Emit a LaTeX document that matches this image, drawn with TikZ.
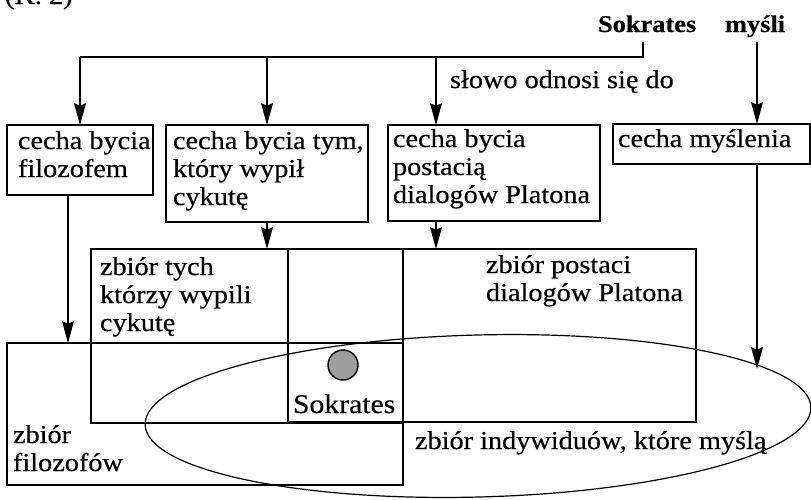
\documentclass[tikz,border=0pt]{standalone}
\usepackage{fontspec}
\setmainfont{Liberation Serif}[FakeStretch=1.1, FakeBold=0.4]
\usetikzlibrary{arrows.meta}
\newcommand\bodyfont{\fontsize{25.7}{28}\selectfont}
\newcommand\headfont{\fontsize{24}{27}\selectfont\bfseries}
\begin{document}
\begin{tikzpicture}[x=1pt,y=-1pt,
  every node/.style={inner sep=0pt, outer sep=0pt},
  wire/.style={line width=1.2pt},
  arr/.style={wire, -{Stealth[length=22pt,width=12pt,inset=3pt]}},
  frame/.style={draw, line width=1.2pt, anchor=north west},
  core/.style={draw, line width=2.2pt, anchor=north west},
  txt/.style={font=\bodyfont, anchor=north west, align=left},
  line/.style={font=\bodyfont, anchor=base west},
  head/.style={font=\headfont, anchor=base west}]
\useasboundingbox (0,0) rectangle (811,499);

% words of the sentence and the reference label
\node[line] (lbl) at (5,4) {(K. 2)};
\node[head] (sok) at (598,32) {Sokrates};
\node[head] (mys) at (725,32) {myśli};
\node[line] (ref) at (450,88) {słowo odnosi się do};

% boxes of the properties
\node[frame, minimum width=146pt, minimum height=70pt] (b1) at (7,125) {};
\node[frame, minimum width=202pt, minimum height=97pt] (b2) at (166,125) {};
\node[frame, minimum width=212pt, minimum height=96pt] (b3) at (388,125) {};
\node[frame, minimum width=197pt, minimum height=40pt] (b4) at (613,124) {};
\node[txt] (t1) at (18,130) {\rule{0pt}{19pt}cecha bycia\\filozofem};
\node[txt] (t2) at (173,130) {\rule{0pt}{19pt}cecha bycia tym,\\który wypił\\cykutę};
\node[txt] (t3) at (393,128) {\rule{0pt}{19pt}cecha bycia\\postacią\\dialogów Platona};
\node[line] (t4) at (618,147) {cecha myślenia};

% the sets
\node[frame, minimum width=312pt, minimum height=174pt] (cyk) at (91,249) {};
\node[frame, minimum width=408pt, minimum height=173pt] (pla) at (288,249) {};
\node[frame, minimum width=396pt, minimum height=142pt] (fil) at (7,343) {};
\draw[wire, rotate around={1.5:(478,416)}] (478,416) ellipse [x radius=333, y radius=81];
\node[core, minimum width=115pt, minimum height=80pt] (sbox) at (288,343) {};
\node[circle, draw, line width=1.4pt, fill=black!38, minimum size=30pt] (dot) at (343,365) {};

\node[txt] (t5) at (100,256) {\rule{0pt}{19pt}zbiór tych\\którzy wypili\\cykutę};
\node[txt] (t6) at (486,254) {\rule{0pt}{19pt}zbiór postaci\\dialogów Platona};
\node[txt] (t7) at (13,424) {\rule{0pt}{19pt}zbiór\\filozofów};
\node[line] (t8) at (415,449) {zbiór indywiduów, które myślą};
\node[line, font=\fontsize{27}{28}\selectfont] (t9) at (293,413) {Sokrates};

% "Sokrates" refers to three properties
\coordinate (s0) at (643,42);
\coordinate (bus) at (643,57);
\coordinate (a3) at (436,57);
\draw[wire] (s0) -- (bus) -- (b1.north |- bus);
\draw[arr] (b1.north |- bus) -- (b1.north);
\draw[arr] (b2.north |- bus) -- (b2.north);
\draw[arr] (a3) -- (a3 |- b3.north);

% "myśli" refers to thinking
\coordinate (m0) at (757,42);
\coordinate (mt) at (757,369);
\draw[arr] (m0) -- (m0 |- b4.north);

% from the properties to their sets
\coordinate (d1) at (68,200);
\draw[arr] (d1 |- b1.south) -- (d1 |- fil.north);
\draw[arr] (b2.south) -- (b2.south |- cyk.north);
\draw[arr] (a3 |- b3.south) -- (a3 |- pla.north);
\draw[arr] (m0 |- b4.south) -- (mt);
\end{tikzpicture}
\end{document}
